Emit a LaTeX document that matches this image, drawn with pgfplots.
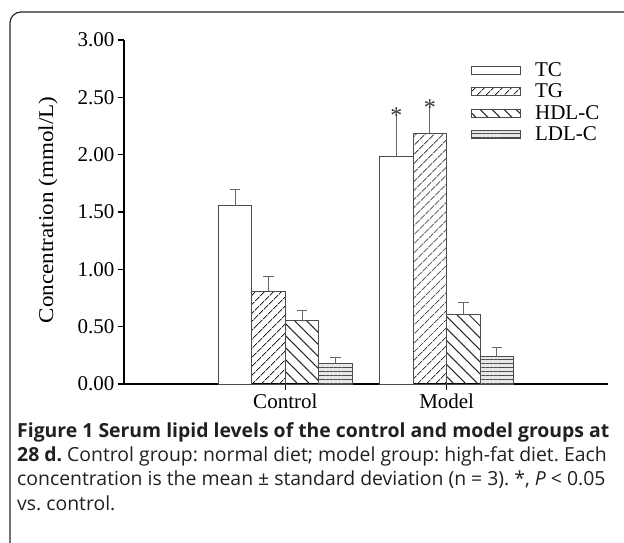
\documentclass[border=0pt]{standalone}
\usepackage{pgfplots}
\pgfplotsset{compat=1.18}
\usepackage{fontspec}
\setmainfont{Liberation Serif}
\newfontfamily\capfont{Open Sans}
\usetikzlibrary{patterns.meta}
\definecolor{edge}{gray}{0.3}
\definecolor{errc}{gray}{0.4}
\definecolor{capc}{HTML}{231F20}
\pgfplotsset{
  errstyle/.style={error bars/.cd, y dir=plus, y explicit, error bar style={errc, line width=1pt},
    error mark options={rotate=90, errc, mark size=5.3pt, line width=1pt}},
  errnocap/.style={error bars/.cd, y dir=plus, y explicit, error bar style={errc, line width=1pt}, error mark=none},
  barbase/.style={ybar, bar width=33.5pt, bar shift=0pt, draw=edge, line width=0.9pt},
  tcstyle/.style={barbase, fill=white},
  tgstyle/.style={barbase, pattern={Lines[angle=45,distance=6.5pt,line width=1pt]}, pattern color=black!85},
  hdlstyle/.style={barbase, pattern={Lines[angle=-45,distance=8.5pt,line width=1pt]}, pattern color=black!85},
  ldlstyle/.style={barbase, fill=gray!18, postaction={pattern={Lines[angle=0,distance=3.9pt,line width=0.8pt]}, pattern color=black!70}},
  star/.style={nodes near coords={*}, every node near coord/.append style={anchor=center, yshift=#1, font=\fontsize{24}{24}\selectfont, inner sep=0pt, black!80}},
}
\begin{document}
\begin{tikzpicture}[x=1pt,y=1pt]
\path[use as bounding box] (0,0) rectangle (624,543);
\begin{scope}
\clip (0,0) rectangle (624,543);
\draw[line width=1.2pt, black!85, rounded corners=11pt] (10,-40) rectangle (680,531);
\end{scope}
\begin{axis}[
  at={(124pt,159pt)}, anchor=south west,
  scale only axis, width=484pt, height=344pt,
  xmin=0, xmax=3, ymin=0, ymax=3,
  clip=false,
  axis lines=left, axis line style={-, line width=1.2pt, black},
  xtick={1,2}, xticklabels={Control,Model},
  ytick={0,0.5,1,1.5,2,2.5,3},
  yticklabel style={/pgf/number format/.cd,fixed,fixed zerofill,precision=2},
  /pgf/number format/assume math mode=true,
  tick align=outside, major tick length=6pt,
  tick style={line width=1.2pt, black},
  ticklabel style={font=\fontsize{21}{21}\selectfont},
  ylabel={\scalebox{1.1}[1]{Concentration (mmol/L)}},
  ylabel style={at={(axis description cs:-0.157,0.506)}, anchor=center, font=\fontsize{21}{21}\selectfont},
  legend style={at={(axis description cs:0.717,0.941)}, anchor=north west, draw=none, fill=none,
    font=\fontsize{21}{21}\selectfont, row sep=2pt, column sep=12pt, inner sep=0pt},
  legend cell align=left,
  legend image code/.code={\draw[#1] (0pt,-4pt) rectangle (49pt,4pt);},
]
% Control group (x = 1), Model group (x = 2); bars placed at group +/- offsets
\addplot[tcstyle, errstyle] coordinates {(0.68853,1.555) += (0,0.145)};
\addlegendentry{TC}
\addplot[tgstyle, errstyle] coordinates {(0.89618,0.81) += (0,0.13)};
\addlegendentry{TG}
\addplot[hdlstyle, errstyle] coordinates {(1.10382,0.55) += (0,0.09) (2.10382,0.608) += (0,0.10)};
\addlegendentry{HDL-C}
\addplot[ldlstyle, errstyle] coordinates {(1.31147,0.18) += (0,0.047) (2.31147,0.238) += (0,0.08)};
\addlegendentry{LDL-C}
\addplot[tcstyle, forget plot, star=41pt, errnocap] coordinates {(1.68853,1.982) += (0,0.364)};
\addplot[tgstyle, forget plot, star=25.5pt, errnocap] coordinates {(1.89618,2.186) += (0,0.22)};
\end{axis}
\node[anchor=north west, inner sep=0pt] at (17pt,121pt)
  {\parbox[t]{610pt}{\raggedright\capfont\fontsize{19.4}{24.4}\selectfont\frenchspacing\color{capc}%
   \textbf{Figure 1 Serum lipid levels of the control and model groups at}\\
   \textbf{28 d.} Control group: normal diet; model group: high-fat diet. Each\\
   concentration is the mean ± standard deviation (n = 3). *, \textit{P} < 0.05\\
   vs. control.}};
\end{tikzpicture}
\end{document}
